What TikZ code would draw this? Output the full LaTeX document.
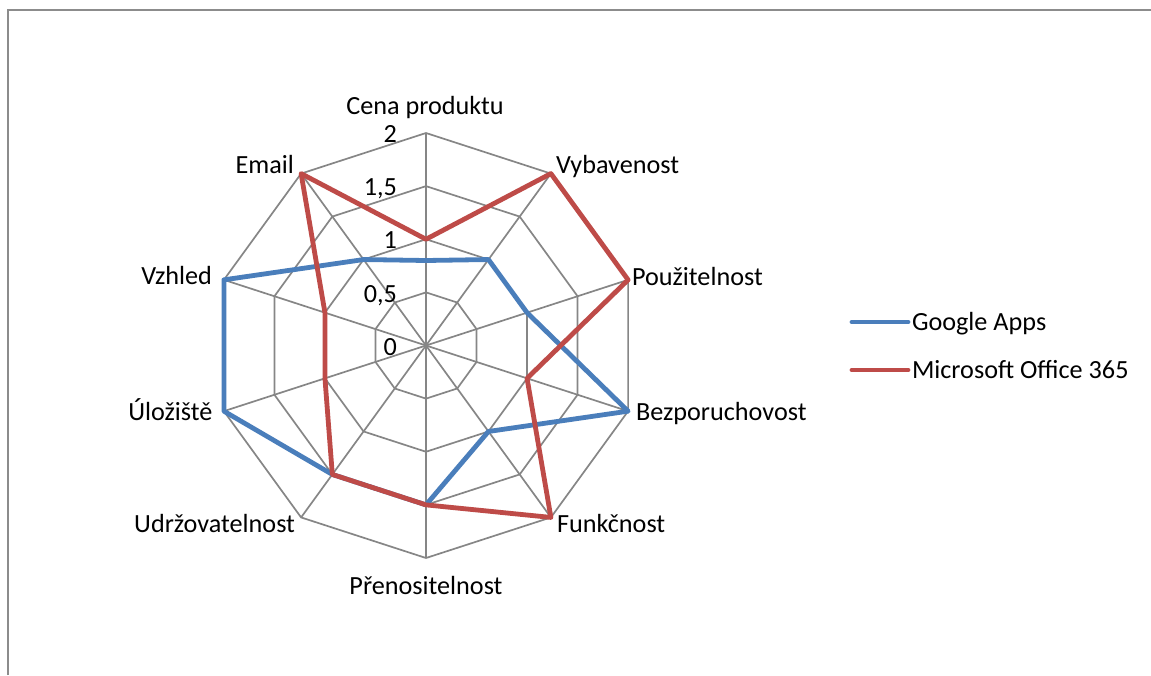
\documentclass[tikz,border=0pt]{standalone}
\usepackage{fontspec}
\setmainfont{Carlito}
\definecolor{gridgray}{RGB}{134,134,134}
\definecolor{framegray}{RGB}{140,140,140}
\definecolor{gblue}{RGB}{74,126,187}
\definecolor{mred}{RGB}{190,75,72}
\begin{document}
\begin{tikzpicture}[x=1pt,y=-1pt,
  font=\fontsize{26.2}{30}\selectfont,
  gridline/.style={draw=gridgray,line width=1.7pt},
  frameline/.style={draw=framegray,line width=2pt},
  gline/.style={draw=gblue,line width=4.8pt,line join=round},
  mline/.style={draw=mred,line width=4.8pt,line join=round},
  lbl/.style={inner sep=0pt,outer sep=0pt,text=black}]
\useasboundingbox (0,0) rectangle (1151,675);
% frame
\coordinate (f1) at (8,675);
\coordinate (f2) at (8,10);
\coordinate (f3) at (1151,10);
\draw[frameline] (f1) -- (f2) -- (f3);
% radar
\begin{scope}[shift={(426,345.5)}]
  \coordinate (C) at (0,0);
  \foreach \r in {0.5,1,1.5,2}{
    \draw[gridline] (-90:\r*106.25) \foreach \i in {1,...,9}{ -- (\i*36-90:\r*106.25)} -- cycle;
  }
  \foreach \i in {0,...,9}{
    \coordinate (a\i) at (\i*36-90:212.5);
    \draw[gridline] (C) -- (a\i);
  }
  \foreach \v [count=\i from 0] in {0.8,1,1,2,1,1.5,1.5,2,2,1}{
    \coordinate (g\i) at (\i*36-90:\v*106.25);
  }
  \foreach \v [count=\i from 0] in {1,2,2,1,2,1.5,1.5,1,1,2}{
    \coordinate (m\i) at (\i*36-90:\v*106.25);
  }
  \draw[gline] (g0) -- (g1) -- (g2) -- (g3) -- (g4) -- (g5) -- (g6) -- (g7) -- (g8) -- (g9) -- cycle;
  \draw[mline] (m0) -- (m1) -- (m2) -- (m3) -- (m4) -- (m5) -- (m6) -- (m7) -- (m8) -- (m9) -- cycle;
\end{scope}
% tick labels
\node[lbl,anchor=base east] (t0) at (397,355) {0};
\node[lbl,anchor=base east] (t1) at (397,302) {0,5};
\node[lbl,anchor=base east] (t2) at (397,248.75) {1};
\node[lbl,anchor=base east] (t3) at (397,195.6) {1,5};
\node[lbl,anchor=base east] (t4) at (397,142.5) {2};
% category labels
\node[lbl,anchor=base] (c0) at (425,114) {Cena produktu};
\node[lbl,anchor=base west] (c1) at (556,173) {Vybavenost};
\node[lbl,anchor=base west] (c2) at (632,285) {Použitelnost};
\node[lbl,anchor=base west] (c3) at (636,420) {Bezporuchovost};
\node[lbl,anchor=base west] (c4) at (557,532.7) {Funkčnost};
\node[lbl,anchor=base] (c5) at (426,594) {Přenositelnost};
\node[lbl,anchor=base east] (c6) at (295,532.7) {Udržovatelnost};
\node[lbl,anchor=base east] (c7) at (212.5,420) {Úložiště};
\node[lbl,anchor=base east] (c8) at (212,284.3) {Vzhled};
\node[lbl,anchor=base east] (c9) at (294,173) {Email};
% legend
\coordinate (lg1) at (852,322);
\coordinate (lg2) at (908,322);
\coordinate (lm1) at (852,370);
\coordinate (lm2) at (908,370);
\draw[gline,line cap=round] (lg1) -- (lg2);
\draw[mline,line cap=round] (lm1) -- (lm2);
\node[lbl,anchor=base west] (lgt) at (912,330) {Google Apps};
\node[lbl,anchor=base west] (lmt) at (912,378.3) {Microsoft Office 365};
\end{tikzpicture}
\end{document}
